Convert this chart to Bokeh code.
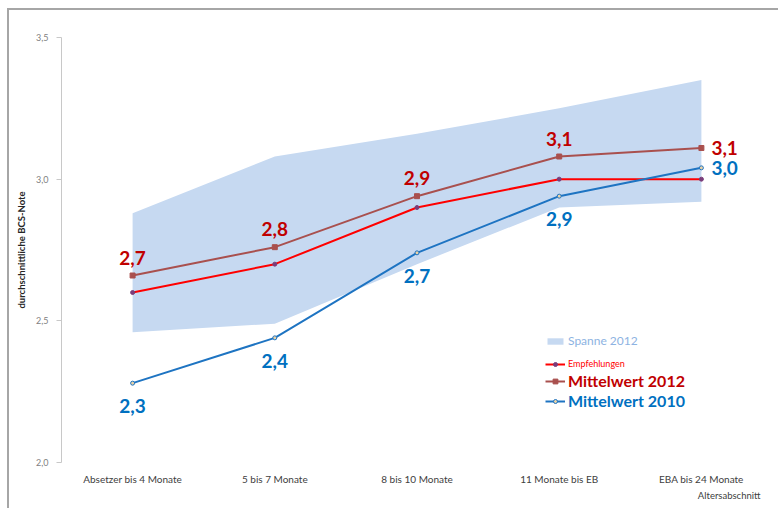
from bokeh.plotting import figure
from bokeh.models import (ColumnDataSource, FactorRange, Range1d, FixedTicker, LabelSet,
                          Legend, LegendItem, Title, CustomJSTickFormatter)
from bokeh.core.properties import value
from bokeh.embed import file_html
from bokeh.resources import INLINE

# Altersabschnitte
categories = ["Absetzer bis 4 Monate", "5 bis 7 Monate", "8 bis 10 Monate",
              "11 Monate bis EB", "EBA bis 24 Monate"]

# Spannweite der BCS-Noten 2012
spanne_min = [2.46, 2.49, 2.70, 2.90, 2.92]
spanne_max = [2.88, 3.08, 3.16, 3.25, 3.35]

# Empfohlene Noten und Mittelwerte
empfehlungen = [2.60, 2.70, 2.90, 3.00, 3.00]
mittelwert_2012 = [2.66, 2.76, 2.94, 3.08, 3.11]
mittelwert_2010 = [2.28, 2.44, 2.74, 2.94, 3.04]

y_ticks = [2.0, 2.5, 3.0, 3.5]

FONT = "Lato"
BAND = "#C6D9F1"
RED = "#FF0000"
BROWN = "#A9504E"
DARKRED = "#C00000"
BLUE = "#1E74C2"
LABELBLUE = "#0070C0"


def de(v):
    return f"{v:.1f}".replace(".", ",")


p = figure(width=771, height=500,
           x_range=FactorRange(*categories, range_padding=0),
           y_range=Range1d(2.0, 3.5),
           output_backend="svg", toolbar_location=None,
           min_border_left=52, min_border_right=8,
           min_border_top=27, min_border_bottom=48)
p.margin = (10, 0, 0, 9)
p.styles = {"box-shadow": "-2px -2px 0 0 #a6a6a6"}
p.outline_line_alpha = 0
p.xgrid.visible = False
p.ygrid.visible = False

# y axis
p.yaxis.ticker = FixedTicker(ticks=y_ticks)
p.yaxis.formatter = CustomJSTickFormatter(code="return tick.toFixed(1).replace('.', ',');")
p.yaxis.minor_tick_line_alpha = 0
p.yaxis.major_tick_in = 0
p.yaxis.major_tick_out = 5
p.yaxis.axis_line_color = "#C8C8C8"
p.yaxis.major_tick_line_color = "#C8C8C8"
p.yaxis.major_label_text_font = FONT
p.yaxis.major_label_text_font_size = "9px"
p.yaxis.major_label_text_color = "#7F7F7F"
p.yaxis.major_label_standoff = 8
p.yaxis.axis_label = "durchschnittliche BCS-Note"
p.yaxis.axis_label_text_font = FONT
p.yaxis.axis_label_text_font_size = "9.5px"
p.yaxis.axis_label_text_font_style = "bold"
p.yaxis.axis_label_text_color = "#262626"
p.yaxis.axis_label_standoff = 6

# x axis
p.xaxis.axis_line_alpha = 0
p.xaxis.major_tick_line_alpha = 0
p.xaxis.minor_tick_line_alpha = 0
p.xaxis.major_label_text_font = FONT
p.xaxis.major_label_text_font_size = "10px"
p.xaxis.major_label_text_color = "#404040"
p.xaxis.major_label_standoff = 4

p.add_layout(Title(text="Altersabschnitt", align="right", text_font=FONT,
                   text_font_size="9.5px", text_font_style="normal",
                   text_color="#404040", offset=12, standoff=0,
                   text_line_height=0.9), "below")

# Spanne 2012
band = p.varea(x=categories, y1=spanne_min, y2=spanne_max, fill_color=BAND)

# Empfehlungen
emp_line = p.line(categories, empfehlungen, line_color=RED, line_width=2)
emp_pts = p.scatter(categories, empfehlungen, marker="circle", size=4,
                    fill_color="#7A3D7A", line_color="#7A3D7A")

# Mittelwert 2012
m12_line = p.line(categories, mittelwert_2012, line_color=BROWN, line_width=2)
m12_pts = p.scatter(categories, mittelwert_2012, marker="square", size=5,
                    fill_color=BROWN, line_color=BROWN)

# Mittelwert 2010
m10_line = p.line(categories, mittelwert_2010, line_color=BLUE, line_width=2)
m10_pts = p.scatter(categories, mittelwert_2010, marker="circle", size=4,
                    fill_color="#E8D2A8", line_color=BLUE, line_width=1)


def value_labels(values, color, dy_inner):
    n = len(values)
    src = ColumnDataSource(dict(
        x=categories, y=values, text=[de(v) for v in values],
        xo=[0] * (n - 1) + [10],
        yo=[dy_inner] * (n - 1) + [0],
        align=["center"] * (n - 1) + ["left"],
    ))
    return LabelSet(x="x", y="y", text="text", source=src,
                    x_offset="xo", y_offset="yo", text_align="align",
                    text_baseline="middle", text_font=value(FONT),
                    text_font_size=value("19px"), text_font_style=value("bold"),
                    text_color=value(color))


p.add_layout(value_labels(mittelwert_2012, DARKRED, 18))
p.add_layout(value_labels(mittelwert_2010, LABELBLUE, -23))


# Legend: one block per entry so each label keeps its own colour and size
def key(label, renderers, color, size, style, center_y, gh, h):
    leg = Legend(items=[LegendItem(label=label, renderers=renderers)],
                 location=(484, 462 - center_y - h / 2),
                 orientation="vertical", padding=0, margin=0, spacing=0,
                 border_line_alpha=0, background_fill_alpha=0,
                 glyph_width=20, glyph_height=gh, label_height=h,
                 label_standoff=3, label_text_font=FONT,
                 label_text_font_size=size, label_text_font_style=style,
                 label_text_color=color)
    p.add_layout(leg)


key("Spanne 2012", [band], "#8DB3E2", "12px", "normal", 344, 8, 8)
key("Empfehlungen", [emp_line, emp_pts], RED, "9px", "normal", 364, 10, 10)
key("Mittelwert 2012", [m12_line, m12_pts], DARKRED, "16px", "bold", 384, 12, 12)
key("Mittelwert 2010", [m10_line, m10_pts], LABELBLUE, "16px", "bold", 405, 10, 10)

open("out.html", "w").write(file_html(p, INLINE))
